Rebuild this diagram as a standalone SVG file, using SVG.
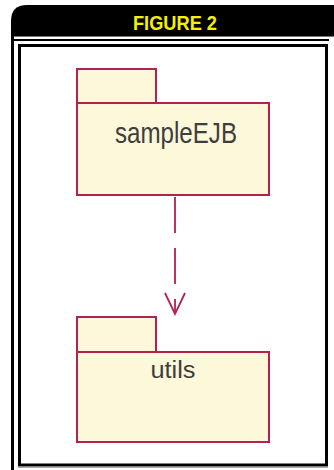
<svg xmlns="http://www.w3.org/2000/svg" width="334" height="470" viewBox="0 0 334 470">
<defs>
<style>
.pkg{fill:#fdf8d9;stroke:#b3214f;stroke-width:2}
.lbl{font-family:"Liberation Sans",Arial,sans-serif;fill:#3e3e3e;text-anchor:middle}
.frame{fill:none;stroke:#000}
.dep{fill:none;stroke:#b3214f;stroke-width:1.8}
</style>
</defs>
<rect width="334" height="470" fill="#fff"/>
<g id="frame">
<path d="M11 36 V21 Q11 5 27 5 H334 V36 Z" fill="#000"/>
<line x1="11" y1="36.5" x2="334" y2="36.5" stroke="#777" stroke-width="1"/>
<path class="frame" d="M12.5 36 V470" stroke-width="3"/>
<path class="frame" d="M14 40 H329" stroke-width="2"/>
<rect class="frame" x="19.5" y="45.5" width="307" height="419.5" stroke-width="3"/>
<line x1="18" y1="467.5" x2="328" y2="467.5" stroke="#aaa" stroke-width="1"/>
<text x="175" y="30" font-family="Liberation Sans, Arial, sans-serif" font-weight="bold" font-size="20" fill="#f5f000" text-anchor="middle" textLength="84" lengthAdjust="spacingAndGlyphs">FIGURE 2</text>
</g>
<g id="connectors">
<path class="dep" d="M175 197 V314" stroke-dasharray="36 15"/>
<path class="dep" d="M165 293 L175 314 L185 293"/>
</g>
<g id="sampleEJB">
<rect class="pkg" x="77" y="69" width="79" height="34"/>
<rect class="pkg" x="77" y="103" width="192" height="92"/>
<text class="lbl" x="176" y="143" font-size="29" textLength="122" lengthAdjust="spacingAndGlyphs">sampleEJB</text>
</g>
<g id="utils">
<rect class="pkg" x="77" y="317" width="79" height="35"/>
<rect class="pkg" x="77" y="352" width="192" height="90"/>
<text class="lbl" x="173" y="378" font-size="23" textLength="45" lengthAdjust="spacingAndGlyphs">utils</text>
</g>
</svg>
